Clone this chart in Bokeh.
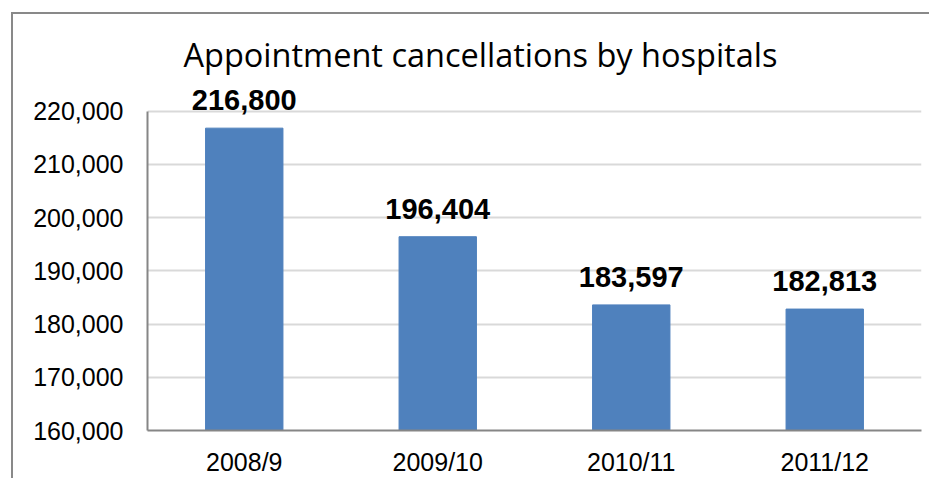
from bokeh.plotting import figure
from bokeh.models import ColumnDataSource, LabelSet, NumeralTickFormatter, FixedTicker, Title, Range1d
from bokeh.core.properties import value
from bokeh.embed import file_html
from bokeh.resources import INLINE

years = ["2008/9", "2009/10", "2010/11", "2011/12"]
cancellations = [216800, 196404, 183597, 182813]
label_texts = ["216,800", "196,404", "183,597", "182,813"]
y_ticks = [160000, 170000, 180000, 190000, 200000, 210000, 220000]

src = ColumnDataSource(dict(x=years, y=cancellations, t=label_texts))

p = figure(x_range=years, y_range=Range1d(160000, 225000),
           frame_width=774, frame_height=346,
           output_backend="svg", toolbar_location=None,
           min_border_left=134, min_border_right=8, min_border_top=70, min_border_bottom=8)
p.styles = {"border-left": "2px solid #898989", "border-top": "2px solid #898989",
            "margin-left": "11px", "margin-top": "12px"}

p.vbar(x="x", top="y", bottom=160000, width=0.4, source=src,
       fill_color="#4F81BD", line_color="#4F81BD")

labels = LabelSet(x="x", y="y", text="t", source=src, text_align="center",
                  text_baseline="alphabetic", y_offset=18,
                  text_font=value("Liberation Sans"), text_font_size="29px",
                  text_font_style="bold", text_color="#000000")
p.add_layout(labels)

t = Title(text="Appointment cancellations by hospitals", align="left", offset=36,
          text_font="Open Sans", text_font_size="32.5px", text_font_style="normal",
          text_color="#000000", standoff=16)
p.add_layout(t, "above")

p.outline_line_color = None
p.background_fill_color = "white"
p.border_fill_color = "white"
p.xgrid.grid_line_color = None
p.ygrid.grid_line_color = "#D9D9D9"
p.ygrid.grid_line_width = 2

p.yaxis.ticker = FixedTicker(ticks=y_ticks)
p.yaxis.bounds = (160000, 220000)
p.yaxis.formatter = NumeralTickFormatter(format="0,0")
for ax in (p.xaxis, p.yaxis):
    ax.axis_line_color = "#868686"
    ax.axis_line_width = 2
    ax.major_tick_line_color = None
    ax.minor_tick_line_color = None
    ax.major_label_text_font = "Liberation Sans"
    ax.major_label_text_font_size = "25px"
    ax.major_label_text_color = "#000000"
p.yaxis.major_label_standoff = 18
p.xaxis.major_label_standoff = 11

open("out.html", "w").write(file_html(p, INLINE))
